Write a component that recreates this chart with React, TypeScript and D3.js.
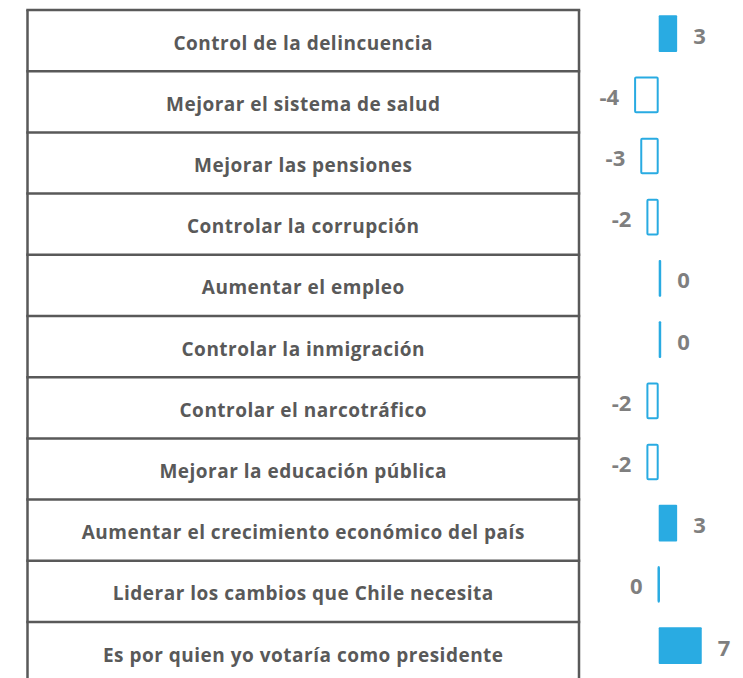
import * as d3 from 'd3';
import { useEffect, useRef } from 'react';

const categories = [
    "Control de la delincuencia",
    "Mejorar el sistema de salud",
    "Mejorar las pensiones",
    "Controlar la corrupción",
    "Aumentar el empleo",
    "Controlar la inmigración",
    "Controlar el narcotráfico",
    "Mejorar la educación pública",
    "Aumentar el crecimiento económico del país",
    "Liderar los cambios que Chile necesita",
    "Es por quien yo votaría como presidente",
];
// difference values (zero rows are small values that round to 0)
const values = [3, -4, -3, -2, 0.3, 0.2, -2, -2, 3, -0.2, 7];

const App = () => {
    const ref = useRef<SVGSVGElement>(null);
    useEffect(() => {
        DrawChart();
    }, []);
    const DrawChart = () => {
        const width = 743, height = 678;
        const svg = d3.select(ref.current);
        svg.selectAll("*").remove();

        const tableLeft = 27.5, tableRight = 579, tableTop = 10, rowH = 61.2;
        const rows: any = d3.scaleBand()
            .domain(categories)
            .range([tableTop, tableTop + rowH * categories.length]);
        const barY: any = d3.scaleBand()
            .domain(categories)
            .range([tableTop - 7, tableTop - 7 + rowH * categories.length])
            .paddingInner(0.4)
            .paddingOuter(0.2);
        const x = d3.scaleLinear()
            .domain([-5, 8])
            .range([658.7 - 5 * 6.15, 658.7 + 8 * 6.15]);

        // Table
        const grid = svg.append("g")
            .attr("stroke", "#595959")
            .attr("stroke-width", 2.5)
            .attr("fill", "none");
        grid.selectAll(".hline")
            .data(categories)
            .enter().append("line")
            .attr("x1", tableLeft - 1.25)
            .attr("x2", tableRight + 1.25)
            .attr("y1", (d: any) => rows(d))
            .attr("y2", (d: any) => rows(d));
        grid.append("line")
            .attr("x1", tableLeft).attr("x2", tableLeft)
            .attr("y1", tableTop).attr("y2", height);
        grid.append("line")
            .attr("x1", tableRight).attr("x2", tableRight)
            .attr("y1", tableTop).attr("y2", height);

        svg.append("g")
            .selectAll("text")
            .data(categories)
            .enter().append("text")
            .attr("x", (tableLeft + tableRight) / 2)
            .attr("y", (d: any) => rows(d) + rows.bandwidth() / 2 + 2)
            .attr("text-anchor", "middle")
            .attr("dominant-baseline", "central")
            .attr("font-family", "'Open Sans', sans-serif")
            .attr("font-weight", 700)
            .attr("font-size", 19)
            .attr("letter-spacing", 0.5)
            .attr("fill", "#595959")
            .text((d: any) => d);

        // Bars
        const data = categories.map((c, i) => ({ c, v: values[i] }));
        const blue = "#29abe2";
        svg.append("g")
            .selectAll("rect")
            .data(data)
            .enter().append("rect")
            .attr("x", (d: any) => d.v >= 0 ? x(0) : x(d.v) + 1)
            .attr("y", (d: any) => barY(d.c) + (d.v >= 0 ? 0 : 1))
            .attr("width", (d: any) => d.v >= 0 ? Math.max(x(d.v) - x(0), 2.5) : Math.max(x(0) - x(d.v) - 2, 0.5))
            .attr("height", (d: any) => barY.bandwidth() - (d.v >= 0 ? 0 : 2))
            .attr("rx", 1)
            .attr("fill", (d: any) => d.v >= 0 ? blue : "none")
            .attr("stroke", (d: any) => d.v >= 0 ? "none" : blue)
            .attr("stroke-width", 2);

        svg.append("g")
            .selectAll("text")
            .data(data)
            .enter().append("text")
            .attr("x", (d: any) => d.v >= 0 ? Math.max(x(d.v), x(0) + 2.5) + 16 : x(d.v) - 15)
            .attr("y", (d: any) => barY(d.c) + barY.bandwidth() / 2 + 1)
            .attr("text-anchor", (d: any) => d.v >= 0 ? "start" : "end")
            .attr("dominant-baseline", "central")
            .attr("font-family", "'Open Sans', sans-serif")
            .attr("font-weight", 700)
            .attr("font-size", 22)
            .attr("fill", "#7f7f7f")
            .text((d: any) => { const r = Math.round(d.v); return r === 0 ? "0" : String(r); });

        svg.attr("width", width).attr("height", height);
    };
    return (
        <svg ref={ref} width={743} height={678}
            style={{ position: "absolute", left: 0, top: 0, background: "#fff" }} />
    );
};
export default App;
